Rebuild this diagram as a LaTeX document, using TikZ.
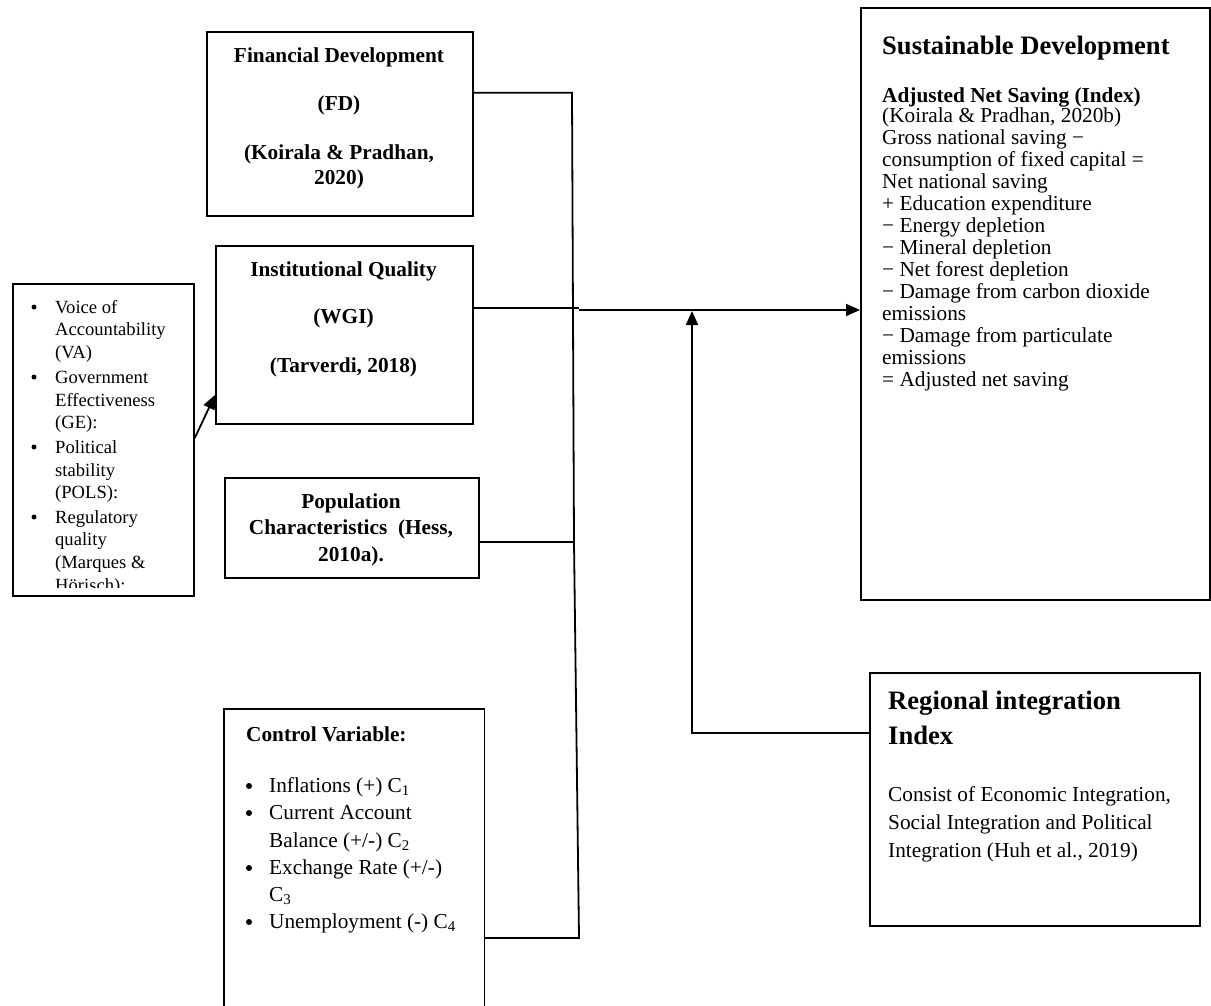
\documentclass[tikz,border=0pt]{standalone}
\usepackage{fontspec}
\setmainfont{Liberation Serif}
\usetikzlibrary{arrows.meta}
\begin{document}
\begin{tikzpicture}[x=1pt,y=-1pt,
  box/.style={draw, line width=1.8pt, inner sep=0pt, anchor=north west},
  ghost/.style={inner sep=0pt, anchor=north west},
  conn/.style={line width=1.8pt},
  arr/.style={line width=1.8pt, -{Triangle[length=14pt,width=12pt]}},
  dot/.style={circle, fill, inner sep=0pt, minimum size=#1},
  bt/.style={font=\fontsize{21.3}{25}\selectfont\bfseries, inner sep=0pt, anchor=base},
  btl/.style={font=\fontsize{21.3}{25}\selectfont\bfseries, inner sep=0pt, anchor=base west},
  rt/.style={font=\fontsize{21.3}{25}\selectfont, inner sep=0pt, anchor=base west},
  st/.style={font=\fontsize{18.6}{20}\selectfont, inner sep=0pt, anchor=base west},
  tt/.style={font=\fontsize{26.6}{30}\selectfont\bfseries, inner sep=0pt, anchor=base west},
]
\useasboundingbox[fill=white] (0,0) rectangle (1211,1005);

% ---- boxes
\node[box, minimum width=266pt, minimum height=184pt] (fd) at (206,31) {};
\node[box, minimum width=257pt, minimum height=178pt] (iq) at (215,245) {};
\node[box, minimum width=254pt, minimum height=100pt] (pop) at (224,477) {};
\node[box, minimum width=181pt, minimum height=312pt] (vq) at (12,283) {};
\node[ghost, minimum width=260pt, minimum height=310pt] (cv) at (224,709) {};
\draw[line width=1.8pt] (cv.south west) -- (cv.north west) -- (cv.north east) -- (cv.south east);
\node[box, minimum width=349pt, minimum height=592pt] (sd) at (860,7) {};
\node[box, minimum width=330pt, minimum height=253pt] (ri) at (869,672) {};

% ---- Financial Development
\node[bt] (fd1) at (339,62) {Financial Development};
\node[bt] (fd2) at (339,110.5) {(FD)};
\node[bt] (fd3) at (339,159) {(Koirala \& Pradhan,};
\node[bt] (fd4) at (339,184) {2020)};

% ---- Institutional Quality
\node[bt] (iq1) at (343.5,276) {Institutional Quality};
\node[bt] (iq2) at (343.5,323) {(WGI)};
\node[bt] (iq3) at (343.5,372) {(Tarverdi, 2018)};

% ---- Population
\node[bt] (pp1) at (351,508) {Population};
\node[bt] (pp2) at (351,534) {Characteristics\ \ (Hess,};
\node[bt] (pp3) at (351,561) {2010a).};

% ---- WGI indicators (clipped list)
\begin{scope}
\clip (12,283) rectangle (193,587);
\node[dot=5pt] (vb1) at (34,307) {};
\node[dot=5pt] (vb2) at (34,377) {};
\node[dot=5pt] (vb3) at (34,447) {};
\node[dot=5pt] (vb4) at (34,517) {};
\node[st] (vq1) at (55,313) {Voice of};
\node[st] (vq2) at (55,335) {Accountability};
\node[st] (vq3) at (55,358) {(VA)};
\node[st] (vq4) at (55,383) {Government};
\node[st] (vq5) at (55,406) {Effectiveness};
\node[st] (vq6) at (55,428) {(GE):};
\node[st] (vq7) at (55,453) {Political};
\node[st] (vq8) at (55,476) {stability};
\node[st] (vq9) at (55,498) {(POLS):};
\node[st] (vq10) at (55,523) {Regulatory};
\node[st] (vq11) at (55,545) {quality};
\node[st] (vq12) at (55,568) {(Marques \&};
\node[st] (vq13) at (55,591) {Hörisch):};
\end{scope}

% ---- Control variables
\node[btl] (cv0) at (246,741) {Control Variable:};
\node[dot=6pt] (cb1) at (249,786) {};
\node[dot=6pt] (cb2) at (249,813) {};
\node[dot=6pt] (cb3) at (249,868) {};
\node[dot=6pt] (cb4) at (249,922) {};
\node[rt] (cv1) at (269,792) {Inflations (+) C\textsubscript{1}};
\node[rt] (cv2) at (269,819) {Current Account};
\node[rt] (cv3) at (269,847) {Balance (+/-) C\textsubscript{2}};
\node[rt] (cv4) at (269,874) {Exchange Rate (+/-)};
\node[rt] (cv5) at (269,901) {C\textsubscript{3}};
\node[rt] (cv6) at (269,928) {Unemployment (-) C\textsubscript{4}};

% ---- Sustainable Development
\node[tt] (sdt) at (882,54) {Sustainable Development};
\node[btl] (sds) at (882,102) {Adjusted Net Saving (Index)};
\node[rt] (sd1) at (882,122) {(Koirala \& Pradhan, 2020b)};
\node[rt] (sd2) at (882,144) {Gross national saving −};
\node[rt] (sd3) at (882,166) {consumption of fixed capital =};
\node[rt] (sd4) at (882,188) {Net national saving};
\node[rt] (sd5) at (882,210) {+ Education expenditure};
\node[rt] (sd6) at (882,232) {− Energy depletion};
\node[rt] (sd7) at (882,254) {− Mineral depletion};
\node[rt] (sd8) at (882,276) {− Net forest depletion};
\node[rt] (sd9) at (882,298) {− Damage from carbon dioxide};
\node[rt] (sd10) at (882,320) {emissions};
\node[rt] (sd11) at (882,342) {− Damage from particulate};
\node[rt] (sd12) at (882,364) {emissions};
\node[rt] (sd13) at (882,386) {= Adjusted net saving};

% ---- Regional integration
\node[tt] (ri1) at (888,709) {Regional integration};
\node[tt] (ri2) at (888,744) {Index};
\node[rt] (ri3) at (888,801) {Consist of Economic Integration,};
\node[rt] (ri4) at (888,829) {Social Integration and Political};
\node[rt] (ri5) at (888,857) {Integration (Huh et al., 2019)};

% ---- connectors
\coordinate (j1) at (572,92.7);
\coordinate (j2) at (574,542);
\coordinate (j3) at (579,938);
\coordinate (j4) at (579,308);
\coordinate (j5) at (579,310);
\coordinate (j6) at (692,733);
\coordinate (j7) at (692,311);
\coordinate (a1) at (193,438);
\coordinate (a2) at (215,395);

\draw[conn] (j1 -| fd.east) -- (j1) -- (j2);
\draw[conn] (j2 -| pop.east) -- (j2) -- (j3) -- (j3 -| cv.east);
\draw[conn] (j4 -| iq.east) -- (j4);
\draw[arr] (j5) -- (j5 -| sd.west);
\draw[arr] (j6 -| ri.west) -- (j6) -- (j7);
\draw[arr] (a1 -| vq.east) -- (a2 -| iq.west);
\end{tikzpicture}
\end{document}
